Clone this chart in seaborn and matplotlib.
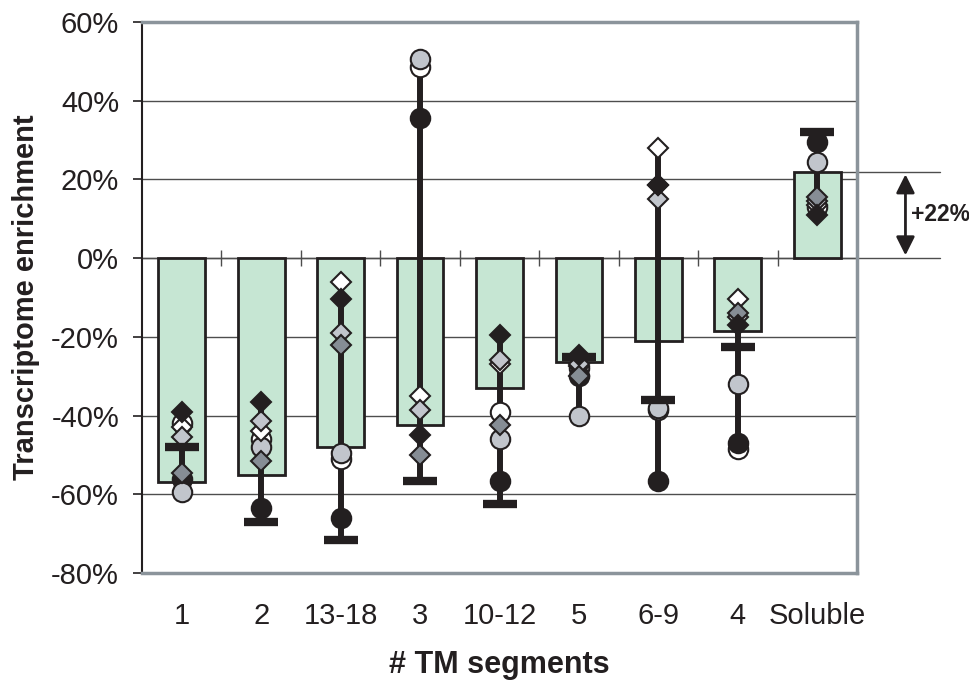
import numpy as np
import pandas as pd
import seaborn as sns
import matplotlib.pyplot as plt

# categories (number of TM segments) and bar heights, in %
categories = ['1', '2', '13-18', '3', '10-12', '5', '6-9', '4', 'Soluble']
bar_values = [-57, -55, -48, -42.5, -33, -26.5, -21, -18.5, 22]

# individual data points per category, one list per marker style
black_bar = [-48, -67, -71.5, -56.5, -62.5, -25, -36, -22.5, 32]
black_circle = [-56, -63.5, -66, 35.5, -56.5, -30, -56.5, -47, 29.5]
white_circle = [-42, -46, -51, 48.5, -39, -28, -38.5, -48.5, 13]
gray_circle = [-59.5, -48, -49.5, 50.5, -46, -40, -38, -32, 24.5]
black_diamond = [-39, -36.5, -10.5, -45, -19.5, -24.5, 18.5, -17, 11]
white_diamond = [-43, -44, -6, -35, -27, -27.5, 28, -10.5, 13.5]
lgray_diamond = [-45.5, -41.5, -19, -38.5, -26, -27, 15, -15, 14.5]
dgray_diamond = [-54.5, -51.5, -22, -50, -42.5, -30, 18.5, -14, 15.5]

yticks = [-80, -60, -40, -20, 0, 20, 40, 60]

ink = '#231f20'
green = '#c6e6d3'
lgray = '#c1c5cc'
dgray = '#868d95'
frame = '#8b949b'

sns.set_style('white')
plt.rcParams['font.family'] = ['Liberation Sans', 'DejaVu Sans']

fig = plt.figure(figsize=(9.7, 6.84), dpi=100)
ax = fig.add_axes([0.1464, 0.1623, 0.7371, 0.8055])

df = pd.DataFrame({'seg': categories, 'enr': bar_values})
sns.barplot(data=df, x='seg', y='enr', order=categories, color=green,
            saturation=1, edgecolor=ink, linewidth=2, width=0.59,
            errorbar=None, ax=ax, zorder=2)

x = np.arange(len(categories))
allpts = np.array([black_bar, black_circle, white_circle, gray_circle,
                   black_diamond, white_diamond, lgray_diamond, dgray_diamond])
ax.vlines(x, allpts.min(axis=0), allpts.max(axis=0), color=ink, lw=4.3, zorder=3)

for vals, fc in [(white_circle, 'white'), (black_circle, ink), (gray_circle, lgray)]:
    ax.plot(x, vals, ls='none', marker='o', ms=14, mfc=fc, mec=ink, mew=1.5, zorder=4)
for vals, fc in [(white_diamond, 'white'), (lgray_diamond, lgray),
                 (dgray_diamond, dgray), (black_diamond, ink)]:
    ax.plot(x, vals, ls='none', marker='D', ms=10.5, mfc=fc, mec=ink, mew=1.5, zorder=5)
ax.plot(x, black_bar, ls='none', marker='_', ms=24, mew=6, mec=ink, zorder=6)

ax.set_xlim(-0.5, len(categories) - 0.5)
ax.set_ylim(-80, 60)
ax.set_yticks(yticks)
ax.set_yticklabels([f'{v}%' for v in yticks])
ax.yaxis.grid(True, color='#4d4d4d', lw=1)
ax.set_axisbelow(True)

# zero line running past the frame, with category separators
xr = len(categories) - 0.5 + 1.05
ax.plot([-0.5, xr], [0, 0], color='#4d4d4d', lw=1, clip_on=False, zorder=1)
ax.vlines(x[:-1] + 0.5, -2, 2, color='#4d4d4d', lw=1, zorder=1)
ax.vlines([len(categories) - 0.5], -2, 2, color='#4d4d4d', lw=1, zorder=1, clip_on=False)

# soluble enrichment marker
sol = bar_values[-1]
ax.plot([len(categories) - 1 + 0.295, xr], [sol, sol], color='#4d4d4d', lw=1,
        clip_on=False, zorder=1)
ax.annotate('', xy=(9.11, sol), xytext=(9.11, 0),
            arrowprops=dict(arrowstyle='<|-|>', color=ink, lw=2, mutation_scale=28),
            annotation_clip=False)
ax.text(9.18, sol / 2, f'+{sol:g}%', fontsize=16.5, fontweight='bold', color=ink,
        va='center', ha='left', clip_on=False)

for side in ['top', 'right', 'bottom']:
    ax.spines[side].set_color(frame)
    ax.spines[side].set_linewidth(2.5)
ax.spines['left'].set_color(ink)
ax.spines['left'].set_linewidth(1.5)

ax.tick_params(axis='y', direction='out', length=6.5, width=1.2, color=ink,
               labelsize=21, pad=10, left=True)
ax.tick_params(axis='x', length=0, labelsize=21, pad=21)
for lab in ax.get_xticklabels() + ax.get_yticklabels():
    lab.set_color(ink)

ax.set_xlabel('# TM segments', fontsize=22, fontweight='bold', color=ink, labelpad=14)
ax.set_ylabel('Transcriptome enrichment', fontsize=21, fontweight='bold', color=ink,
              labelpad=8)

fig.savefig('out.png', dpi=100)
